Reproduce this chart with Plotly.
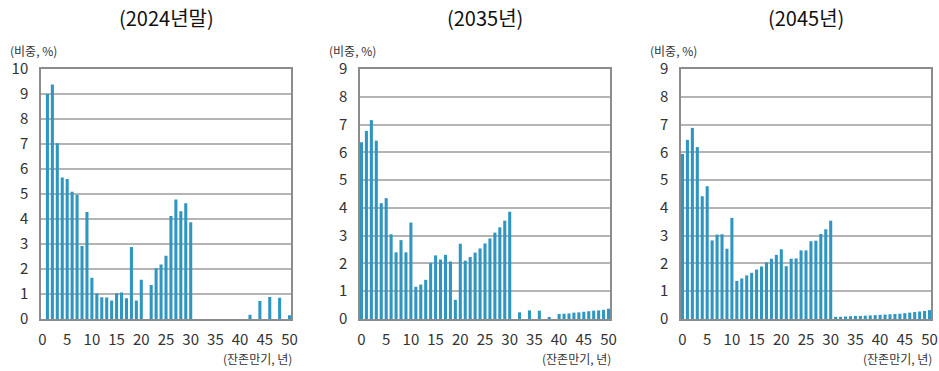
import plotly.graph_objects as go

years = list(range(0, 51))

share_2024 = [0, 9.0, 9.38, 7.03, 5.66, 5.6, 5.09, 4.97, 2.92, 4.28,
              1.65, 1.02, 0.87, 0.86, 0.74, 1.03, 1.06, 0.83, 2.88, 0.74,
              1.57, 0, 1.36, 2.03, 2.18, 2.53, 4.12, 4.78, 4.31, 4.63,
              3.87, 0, 0, 0, 0, 0, 0, 0, 0, 0,
              0, 0, 0.17, 0, 0.72, 0, 0.88, 0, 0.85, 0,
              0.15]

share_2035 = [6.36, 6.77, 7.16, 6.42, 4.17, 4.35, 3.05, 2.40, 2.84, 2.40,
              3.47, 1.16, 1.24, 1.41, 2.01, 2.29, 2.14, 2.31, 2.07, 0.69,
              2.71, 2.10, 2.23, 2.39, 2.54, 2.72, 2.90, 3.11, 3.30, 3.54,
              3.86, 0, 0.24, 0, 0.31, 0, 0.30, 0, 0.06, 0,
              0.18, 0.19, 0.20, 0.23, 0.24, 0.26, 0.28, 0.30, 0.31, 0.33,
              0.37]

share_2045 = [5.94, 6.45, 6.88, 6.19, 4.42, 4.78, 2.83, 3.04, 3.05, 2.53,
              3.64, 1.37, 1.46, 1.57, 1.66, 1.78, 1.89, 2.04, 2.17, 2.31,
              2.51, 1.90, 2.17, 2.18, 2.47, 2.47, 2.80, 2.82, 3.06, 3.23,
              3.54, 0.08, 0.08, 0.09, 0.10, 0.11, 0.11, 0.12, 0.13, 0.14,
              0.15, 0.16, 0.17, 0.18, 0.19, 0.21, 0.23, 0.25, 0.27, 0.29,
              0.32]

titles = ["(2024년말)", "(2035년)", "(2045년)"]
y_max = [10, 9, 9]
x_tick_vals = list(range(0, 51, 5))
y_unit_label = "(비중, %)"
x_unit_label = "(잔존만기, 년)"

W, H = 939, 371
FONT = "Noto Sans CJK KR"
BAR_COLOR = "#2f96c1"
GRID = "#b4b4b4"
FRAME = "#8c8c8c"

# panel pixel boxes (left, right)
panels_px = [(41, 291), (360, 610), (681, 931)]
top_px, bot_px = 69, 319

fig = go.Figure()
series = [share_2024, share_2035, share_2045]
layout = dict(
    width=W, height=H,
    margin=dict(l=0, r=0, t=0, b=0, autoexpand=False),
    paper_bgcolor="white", plot_bgcolor="white",
    showlegend=False,
    font=dict(family=FONT, color="#333333"),
)
annotations = []
for i, (vals, (l, r)) in enumerate(zip(series, panels_px)):
    sfx = "" if i == 0 else str(i + 1)
    fig.add_trace(go.Bar(x=years, y=vals, marker=dict(color=BAR_COLOR, line=dict(width=0)),
                         width=0.62, xaxis="x" + sfx, yaxis="y" + sfx))
    layout["xaxis" + sfx] = dict(
        domain=[l / W, r / W], range=[-0.3, 50.3], anchor="y" + sfx,
        tickvals=x_tick_vals, ticks="", showgrid=False, zeroline=False, automargin=False,
        showline=True, linecolor=FRAME, linewidth=1.5, mirror=True,
        tickfont=dict(size=15, color="#333333"), ticklabelstandoff=6,
    )
    layout["yaxis" + sfx] = dict(
        domain=[1 - bot_px / H, 1 - top_px / H], range=[0, y_max[i]], anchor="x" + sfx,
        dtick=1, ticks="", showgrid=True, gridcolor=GRID, gridwidth=1.5, zeroline=False,
        automargin=False,
        showline=True, linecolor=FRAME, linewidth=1.5, mirror=True,
        tickfont=dict(size=15, color="#333333"), ticklabelstandoff=8,
    )
    cx = (l + r) / 2
    annotations.append(dict(text=titles[i], x=cx / W, y=1 - 17 / H, xref="paper", yref="paper",
                            xanchor="center", yanchor="middle", showarrow=False,
                            font=dict(size=20, color="#111111", family=FONT)))
    annotations.append(dict(text=y_unit_label, x=(l - 33) / W, y=1 - 50 / H, xref="paper", yref="paper",
                            xanchor="left", yanchor="middle", showarrow=False,
                            font=dict(size=12, color="#333333", family=FONT)))
    annotations.append(dict(text=x_unit_label, x=(r + 3) / W, y=1 - 358 / H, xref="paper", yref="paper",
                            xanchor="right", yanchor="middle", showarrow=False,
                            font=dict(size=12, color="#333333", family=FONT)))
layout["annotations"] = annotations
fig.update_layout(**layout)
fig.write_html("out.html")
